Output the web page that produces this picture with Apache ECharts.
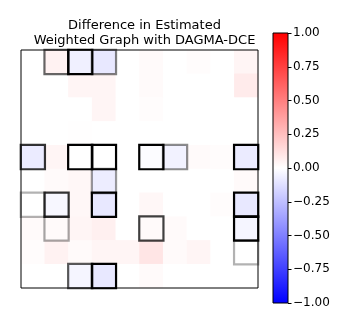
<!DOCTYPE html>
<html>
<head>
<meta charset="utf-8">
<script src="https://cdn.jsdelivr.net/npm/echarts@6/dist/echarts.min.js"></script>
<style>
html, body { margin: 0; padding: 0; background: #fff; }
#main { width: 353px; height: 328px; }
</style>
</head>
<body>
<div id="main"></div>
<script>
// node labels (hidden axes)
var nodes = ['0', '1', '2', '3', '4', '5', '6', '7', '8', '9'];

// difference matrix, rows top to bottom
var diff = [
    [0, 0.05, -0.06, -0.09, 0, 0.02, 0, 0.01, 0, 0.04],
    [0, 0, 0.04, 0.04, 0, 0.02, 0, 0, 0, 0.08],
    [0, 0, 0, 0.04, 0, 0.01, 0, 0, 0, 0],
    [0, 0, 0.005, 0, 0, 0, 0, 0, 0, 0],
    [-0.08, 0.04, 0, 0, 0, -0.01, -0.05, 0.02, 0.01, -0.08],
    [0, 0.02, 0.03, -0.07, 0, 0, 0, 0, 0, 0.02],
    [0, -0.03, 0.03, -0.09, 0, 0.03, 0, 0, 0.01, -0.09],
    [0.02, 0.02, 0.04, 0.06, 0, 0.02, 0.02, 0, 0, -0.04],
    [0.01, 0.05, 0.02, 0.04, 0.04, 0.1, 0.02, 0.04, 0, 0],
    [0, 0, -0.04, -0.09, 0, 0.02, 0, 0, 0, 0]
];

// outlined cells: [row, col, alpha]
var edges = [
    [0, 1, 0.6], [0, 2, 1], [0, 3, 0.5],
    [4, 0, 0.8], [4, 2, 1], [4, 3, 1], [4, 5, 1], [4, 6, 0.45], [4, 9, 1],
    [5, 3, 0.4],
    [6, 0, 0.3], [6, 1, 0.8], [6, 3, 1], [6, 9, 1],
    [7, 1, 0.35], [7, 5, 0.75], [7, 9, 1],
    [8, 9, 0.3],
    [9, 2, 0.65], [9, 3, 1]
];

var cells = [];
diff.forEach(function (row, r) {
    row.forEach(function (v, c) {
        cells.push([c, r, v]);
    });
});

var boxes = edges.map(function (e) {
    return {
        value: [e[1], e[0], 0],
        itemStyle: { borderColor: 'rgba(0,0,0,' + e[2] + ')' }
    };
});

function fmt(v) {
    return (v < 0 ? '\u2212' : '') + Math.abs(v).toFixed(2);
}

var myChart = echarts.init(document.getElementById('main'));

myChart.setOption({
    animation: false,
    textStyle: { fontFamily: 'DejaVu Sans' },
    title: {
        text: 'Difference in Estimated\nWeighted Graph with DAGMA-DCE',
        left: 139.5,
        textAlign: 'center',
        top: 13,
        textStyle: { fontSize: 13, fontWeight: 'normal', color: '#000', lineHeight: 15, fontFamily: 'DejaVu Sans' }
    },
    grid: [
        { left: 21, top: 50, width: 237, height: 238, show: true, borderColor: '#000', borderWidth: 1, backgroundColor: 'transparent', z: 10 },
        { left: 273, top: 33, width: 15, height: 270, show: true, borderColor: '#000', borderWidth: 1, backgroundColor: 'transparent', z: 10 }
    ],
    xAxis: [
        { type: 'category', data: nodes, gridIndex: 0, show: false },
        { type: 'category', data: ['cb'], gridIndex: 1, show: false }
    ],
    yAxis: [
        { type: 'category', data: nodes, gridIndex: 0, show: false, inverse: true },
        {
            type: 'value', gridIndex: 1, min: -1, max: 1, interval: 0.25, position: 'right',
            axisLine: { show: false },
            splitLine: { show: false },
            axisTick: { show: true, length: 3.5, lineStyle: { color: '#000' } },
            axisLabel: { color: '#000', fontSize: 12, margin: 5, formatter: fmt, fontFamily: 'DejaVu Sans' }
        }
    ],
    visualMap: {
        show: false,
        type: 'continuous',
        min: -1,
        max: 1,
        seriesIndex: 0,
        inRange: { color: ['#0000ff', '#ffffff', '#ff0000'] }
    },
    series: [
        {
            type: 'heatmap',
            xAxisIndex: 0,
            yAxisIndex: 0,
            data: cells,
            itemStyle: { borderWidth: 0 },
            emphasis: { disabled: true }
        },
        {
            type: 'heatmap',
            xAxisIndex: 0,
            yAxisIndex: 0,
            data: boxes,
            z: 3,
            itemStyle: { color: 'rgba(0,0,0,0)', borderWidth: 2.2 },
            emphasis: { disabled: true }
        },
        {
            type: 'bar',
            xAxisIndex: 1,
            yAxisIndex: 1,
            barWidth: '100%',
            data: [{
                value: 1,
                itemStyle: { color: new echarts.graphic.LinearGradient(0, 0, 0, 1, [{ offset: 0, color: '#ff0000' }, { offset: 1, color: '#ffffff' }]) }
            }]
        },
        {
            type: 'bar',
            xAxisIndex: 1,
            yAxisIndex: 1,
            barWidth: '100%',
            barGap: '-100%',
            data: [{
                value: -1,
                itemStyle: { color: new echarts.graphic.LinearGradient(0, 0, 0, 1, [{ offset: 0, color: '#ffffff' }, { offset: 1, color: '#0000ff' }]) }
            }]
        }
    ]
});
</script>
</body>
</html>
